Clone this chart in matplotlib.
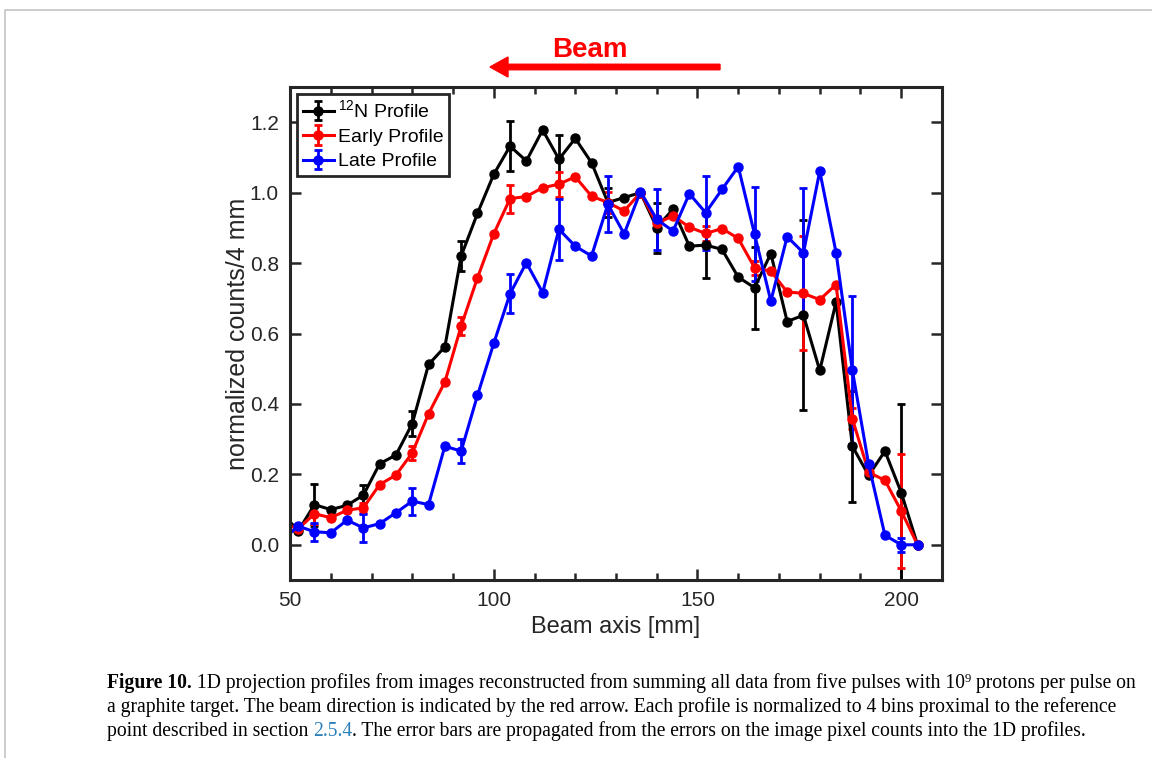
import numpy as np
import matplotlib.pyplot as plt
from matplotlib.patches import FancyArrow
from matplotlib.ticker import MultipleLocator

plt.rcParams['font.family'] = ['Liberation Sans', 'DejaVu Sans']
plt.rcParams['mathtext.default'] = 'regular'

# Положение бинов вдоль пучка, мм (первая точка за левой границей оси)
beam_x = np.arange(48, 205, 4)

n12_profile = [0.092, 0.039, 0.114, 0.100, 0.112, 0.141, 0.230, 0.255, 0.344, 0.512,
               0.562, 0.820, 0.941, 1.052, 1.132, 1.090, 1.178, 1.095, 1.154, 1.085,
               0.972, 0.986, 1.000, 0.901, 0.953, 0.848, 0.851, 0.839, 0.760, 0.730,
               0.827, 0.634, 0.652, 0.495, 0.689, 0.280, 0.197, 0.266, 0.148, 0.0]
early_profile = [0.063, 0.045, 0.088, 0.077, 0.098, 0.105, 0.171, 0.198, 0.261, 0.372,
                 0.462, 0.621, 0.758, 0.883, 0.983, 0.989, 1.014, 1.024, 1.045, 0.990,
                 0.972, 0.948, 1.000, 0.913, 0.934, 0.902, 0.884, 0.898, 0.870, 0.787,
                 0.777, 0.718, 0.714, 0.696, 0.739, 0.358, 0.206, 0.183, 0.096, 0.0]
late_profile = [0.013, 0.053, 0.037, 0.034, 0.070, 0.048, 0.060, 0.091, 0.124, 0.114,
                0.280, 0.266, 0.424, 0.572, 0.713, 0.801, 0.716, 0.896, 0.848, 0.820,
                0.967, 0.883, 1.003, 0.924, 0.891, 0.997, 0.943, 1.009, 1.074, 0.882,
                0.692, 0.875, 0.829, 1.061, 0.830, 0.496, 0.228, 0.027, 0.0, 0.0]

# Ошибки показаны на каждом третьем бине: 56, 68, ..., 200 мм
n12_err = [0.06, 0.03, 0.035, 0.043, 0.071, 0.07, 0.04, 0.071, 0.094, 0.116, 0.27, 0.158, 0.253]
early_err = [0.03, 0.015, 0.02, 0.025, 0.04, 0.035, 0.03, 0.02, 0.02, 0.02, 0.162, 0.03, 0.163]
late_err = [0.025, 0.04, 0.038, 0.035, 0.055, 0.087, 0.08, 0.086, 0.105, 0.134, 0.183, 0.21, 0.02]

series = [
    ('$^{12}$N Profile', n12_profile, n12_err, 'black'),
    ('Early Profile', early_profile, early_err, '#ff0000'),
    ('Late Profile', late_profile, late_err, '#0000ff'),
]

W, H = 1152, 758
fig = plt.figure(figsize=(W / 100, H / 100), dpi=100)
ax = fig.add_axes([290 / W, 1 - 580 / H, 652 / W, 493 / H])

dark = '#262626'
for label, vals, errs, col in series:
    yerr = np.zeros(len(beam_x))
    yerr[2::3] = errs
    ax.errorbar(beam_x, vals, yerr=yerr, errorevery=(2, 3), color=col, lw=2.2,
                marker='o', ms=6.5, capsize=3, capthick=2, elinewidth=2, label=label)

ax.set_xlim(50, 210)
ax.set_ylim(-0.1, 1.3)
ax.xaxis.set_major_locator(MultipleLocator(50))
ax.xaxis.set_minor_locator(MultipleLocator(10))
ax.yaxis.set_major_locator(MultipleLocator(0.2))
ax.yaxis.set_major_formatter(plt.FormatStrFormatter('%.1f'))
ax.tick_params(which='both', direction='in', top=True, right=True, colors=dark,
               labelsize=15, width=1.8)
ax.tick_params(which='major', length=8, pad=8)
ax.tick_params(which='minor', length=5)
for s in ax.spines.values():
    s.set_linewidth(2.2)
    s.set_color(dark)

ax.set_xlabel('Beam axis [mm]', fontsize=17, color=dark, labelpad=4)
ax.set_ylabel('normalized counts/4 mm', fontsize=18, color=dark, labelpad=0)

leg = ax.legend(loc='upper left', fontsize=14, fancybox=False, framealpha=1,
                edgecolor=dark, borderaxespad=0.35, handlelength=1.6,
                handletextpad=0.2, labelspacing=0.35, borderpad=0.3)
leg.get_frame().set_linewidth(2)

# Стрелка направления пучка
fig.add_artist(FancyArrow(7.20, (H - 67) / 100, -2.12, 0, width=0.055,
                          head_width=0.20, head_length=0.18, length_includes_head=False,
                          color='#ff0000', transform=fig.dpi_scale_trans))
fig.text(590 / W, 1 - 50 / H, 'Beam', color='#ff0000', fontsize=20, fontweight='bold',
         family=['Liberation Sans Narrow', 'Liberation Sans'], ha='center', va='center')

# Рамка страницы
fig.add_artist(plt.Line2D([5 / W, 5 / W, 1], [0, 1 - 10 / H, 1 - 10 / H],
                          color='#c4c4c4', lw=1.2, transform=fig.transFigure))

# Подпись к рисунку
cap_lines = [
    [('Figure 10.', 'bold', 'black', 0), (' 1D projection profiles from images reconstructed from summing all data from five pulses with 10', 'normal', 'black', 0),
     ('9', 'normal', 'black', 1), (' protons per pulse on', 'normal', 'black', 0)],
    [('a graphite target. The beam direction is indicated by the red arrow. Each profile is normalized to 4 bins proximal to the reference', 'normal', 'black', 0)],
    [('point described in section ', 'normal', 'black', 0), ('2.5.4', 'normal', '#2b80b9', 0),
     ('. The error bars are propagated from the errors on the image pixel counts into the 1D profiles.', 'normal', 'black', 0)],
]
serif = ['Liberation Serif', 'DejaVu Serif']
renderer = fig.canvas.get_renderer()
probe = fig.text(0, 0, cap_lines[1][0][0], family=serif, fontsize=12)
cap_size = 12 * 1005 / probe.get_window_extent(renderer).width
probe.remove()

baselines = [688, 712, 736]
for line, yb in zip(cap_lines, baselines):
    x = 107
    for txt, weight, col, sup in line:
        size = cap_size * (0.65 if sup else 1)
        yy = yb - (6 if sup else 0)
        t = fig.text(x / W, 1 - yy / H, txt, family=serif, fontsize=size,
                     fontweight=weight, color=col, va='baseline', ha='left')
        x += t.get_window_extent(renderer).width

fig.savefig('out.png', dpi=100)
